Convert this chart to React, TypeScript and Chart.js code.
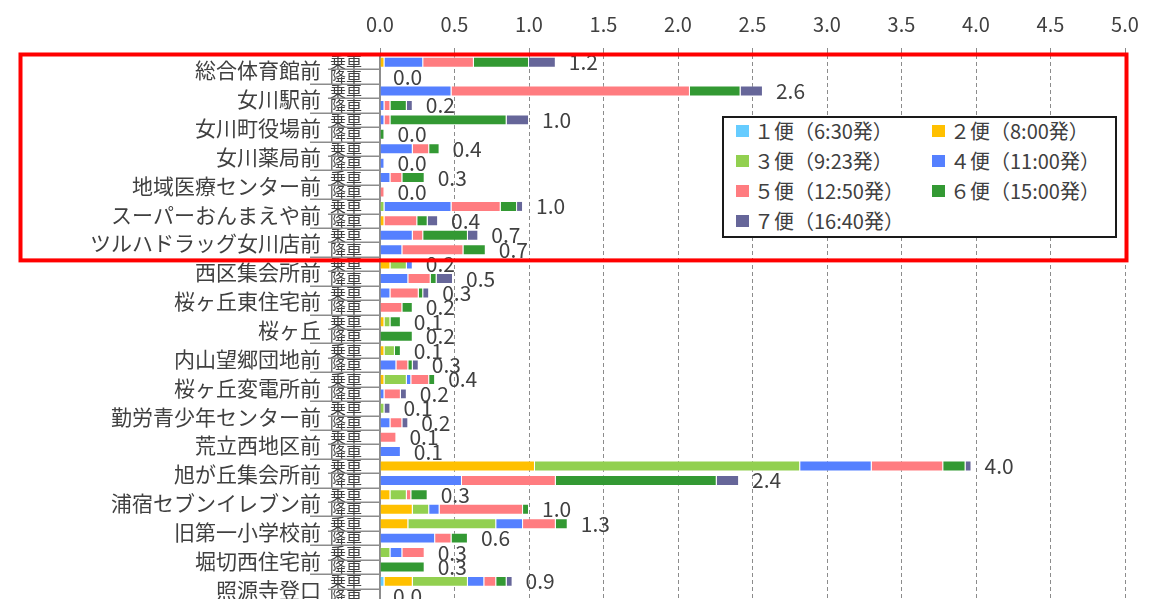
import React, { useEffect, useRef } from 'react';
import { Chart, registerables } from 'chart.js';

Chart.register(...registerables);

const stops = [
  '総合体育館前', '女川駅前', '女川町役場前', '女川薬局前', '地域医療センター前',
  'スーパーおんまえや前', 'ツルハドラッグ女川店前', '西区集会所前', '桜ヶ丘東住宅前', '桜ヶ丘',
  '内山望郷団地前', '桜ヶ丘変電所前', '勤労青少年センター前', '荒立西地区前', '旭が丘集会所前',
  '浦宿セブンイレブン前', '旧第一小学校前', '堀切西住宅前', '照源寺登口',
];
const rideLabels = ['乗車', '降車'];
const tripNames = [
  '１便（6:30発）', '２便（8:00発）', '３便（9:23発）', '４便（11:00発）',
  '５便（12:50発）', '６便（15:00発）', '７便（16:40発）',
];
const tripColors = ['#66CCFF', '#FFC000', '#92D050', '#5580FF', '#FF7C80', '#339933', '#666699'];

// values: [stop乗車, stop降車] pairs in stop order
const trip1 = [0,0, 0,0, 0,0, 0,0, 0,0, 0,0, 0,0, 0,0, 0,0, 0,0, 0,0, 0,0, 0,0, 0,0, 0,0, 0,0, 0,0, 0,0, 0.03,0];
const trip2 = [0.03,0, 0,0, 0,0, 0,0, 0,0, 0,0.03, 0,0, 0.07,0, 0,0, 0.03,0, 0.03,0, 0.03,0, 0,0, 0,0, 1.04,0, 0.07,0.22, 0.19,0, 0,0, 0.19,0];
const trip3 = [0,0, 0,0, 0,0, 0,0, 0,0, 0.03,0, 0,0, 0.11,0, 0,0, 0.04,0, 0.07,0, 0.15,0, 0.03,0, 0,0, 1.78,0, 0.11,0.11, 0.59,0, 0.07,0, 0.37,0];
const trip4 = [0.26,0, 0.48,0.03, 0.03,0, 0.22,0.03, 0.07,0, 0.45,0, 0.22,0.15, 0.04,0.19, 0.07,0, 0,0, 0,0.11, 0.03,0.03, 0,0.07, 0,0.14, 0.48,0.55, 0,0.07, 0.18,0.37, 0.08,0, 0.11,0];
const trip5 = [0.34,0, 1.60,0.04, 0.04,0, 0.11,0, 0.08,0.03, 0.33,0.22, 0.07,0.41, 0,0.15, 0.19,0.15, 0,0, 0,0.08, 0.12,0.11, 0,0.08, 0.11,0, 0.48,0.63, 0.03,0.56, 0.22,0.11, 0.15,0, 0.08,0];
const trip6 = [0.37,0, 0.34,0.11, 0.78,0.03, 0.07,0, 0.15,0, 0.11,0.07, 0.30,0.15, 0,0.04, 0.03,0.07, 0.07,0.22, 0.04,0.03, 0.04,0, 0,0, 0,0, 0.15,1.08, 0.11,0.04, 0.08,0.11, 0,0.30, 0.07,0];
const trip7 = [0.18,0, 0.15,0.04, 0.15,0, 0,0, 0,0, 0.04,0.07, 0.07,0, 0,0.11, 0.04,0, 0,0, 0,0.04, 0,0.04, 0.04,0.04, 0,0, 0.04,0.15, 0,0, 0,0, 0,0, 0.04,0];

const xMin = 0;
const xMax = 5;
const xStep = 0.5;
const highlightedStops = 7;

const FONT = '"Noto Sans CJK JP", "Noto Sans", sans-serif';
const TEXT = '#404040';
const AXIS = '#8c8c8c';

export default function App() {
  const ref = useRef<HTMLCanvasElement>(null);

  useEffect(() => {
    const series = [trip1, trip2, trip3, trip4, trip5, trip6, trip7];
    const rows = stops.flatMap((s) => rideLabels.map((r) => `${s}|${r}`));
    const totals = rows.map((_, i) => Math.round(series.reduce((a, s) => a + s[i], 0) * 100) / 100);

    const overlay = {
      id: 'overlay',
      afterDatasetsDraw(chart: any) {
        const { ctx, scales } = chart;
        const xs = scales.x;
        const ys = scales.y;
        ctx.save();
        ctx.font = `21px ${FONT}`;
        ctx.fillStyle = TEXT;
        ctx.textAlign = 'left';
        ctx.textBaseline = 'middle';
        totals.forEach((t, i) => {
          ctx.fillText(t.toFixed(1), xs.getPixelForValue(t) + 13, ys.getPixelForValue(i));
        });
        ctx.restore();
      },
      afterDraw(chart: any) {
        const { ctx, chartArea, scales } = chart;
        const ys = scales.y;
        const top = chartArea.top;
        const rowH = (chartArea.bottom - chartArea.top) / rows.length;
        const left = chartArea.left;
        ctx.save();
        // axis tick lines
        ctx.strokeStyle = AXIS;
        ctx.lineWidth = 1.5;
        for (let k = 0; k <= rows.length; k++) {
          const y = Math.round(top + k * rowH) + 0.25;
          ctx.beginPath();
          ctx.moveTo(k % 2 === 0 ? 310 : 328, y);
          ctx.lineTo(left, y);
          ctx.stroke();
        }
        // stop names
        ctx.font = `21px ${FONT}`;
        ctx.fillStyle = TEXT;
        ctx.textAlign = 'right';
        ctx.textBaseline = 'middle';
        stops.forEach((s, k) => {
          const y = (ys.getPixelForValue(2 * k) + ys.getPixelForValue(2 * k + 1)) / 2 + 1;
          ctx.fillText(s, 321, y);
        });
        // red highlight rectangle
        const rTop = top - 0.5;
        const rBottom = top + highlightedStops * 2 * rowH + 3.5;
        ctx.strokeStyle = '#ff0000';
        ctx.lineWidth = 4;
        ctx.strokeRect(20.5, rTop, chartArea.right + 1.5 - 20.5, rBottom - rTop);
        ctx.restore();
      },
    };

    const chart = new Chart(ref.current as HTMLCanvasElement, {
      type: 'bar',
      data: {
        labels: rows,
        datasets: series.map((d, i) => ({
          label: tripNames[i],
          data: d,
          backgroundColor: tripColors[i],
          borderColor: 'rgba(255,255,255,0.45)',
          borderWidth: 1,
          barPercentage: 0.76,
          categoryPercentage: 1,
        })),
      },
      options: {
        indexAxis: 'y',
        responsive: false,
        animation: false,
        layout: { padding: { left: 0, right: 37, top: 0, bottom: 0 } },
        plugins: { legend: { display: false }, tooltip: { enabled: false } },
        scales: {
          x: {
            type: 'linear',
            position: 'top',
            stacked: true,
            min: xMin,
            max: xMax,
            afterFit: (s: any) => { s.height = 55; },
            ticks: {
              stepSize: xStep,
              callback: (v: any) => Number(v).toFixed(1),
              font: { family: FONT, size: 20 },
              color: TEXT,
              padding: 12,
            },
            grid: { color: AXIS, lineWidth: 1, tickLength: 7, tickBorderDash: [] },
            border: { display: false, dash: [4, 3] },
          },
          y: {
            type: 'category',
            stacked: true,
            afterFit: (s: any) => { s.width = 380; },
            ticks: {
              autoSkip: false,
              callback: (_v: any, i: number) => rideLabels[i % 2],
              font: { family: FONT, size: 16, lineHeight: 1.125 },
              color: TEXT,
              padding: 18,
            },
            grid: { display: false, drawTicks: false },
            border: { display: true, color: AXIS, width: 2 },
          },
        },
      } as any,
      plugins: [overlay],
    });
    return () => chart.destroy();
  }, []);

  return (
    <div style={{ position: 'fixed', left: 0, top: 0, width: 1162, height: 599, overflow: 'hidden', background: '#fff' }}>
      <canvas ref={ref} width={1162} height={630} style={{ position: 'absolute', left: 0, top: 0, width: 1162, height: 630 }} />
      <div
        style={{
          position: 'absolute', left: 722, top: 116, width: 395, height: 122,
          boxSizing: 'border-box', border: '2px solid #1a1a1a', background: '#fff',
          fontFamily: FONT, fontSize: 20, color: TEXT,
        }}
      >
        {tripNames.map((name, i) => {
          const col = i % 2;
          const row = Math.floor(i / 2);
          return (
            <React.Fragment key={name}>
              <div style={{ position: 'absolute', left: 12 + col * 196, top: 7 + row * 30, width: 13, height: 12, background: tripColors[i] }} />
              <div style={{ position: 'absolute', left: 30 + col * 196, top: 1 + row * 30, height: 24, lineHeight: '24px', whiteSpace: 'nowrap' }}>{name}</div>
            </React.Fragment>
          );
        })}
      </div>
    </div>
  );
}
